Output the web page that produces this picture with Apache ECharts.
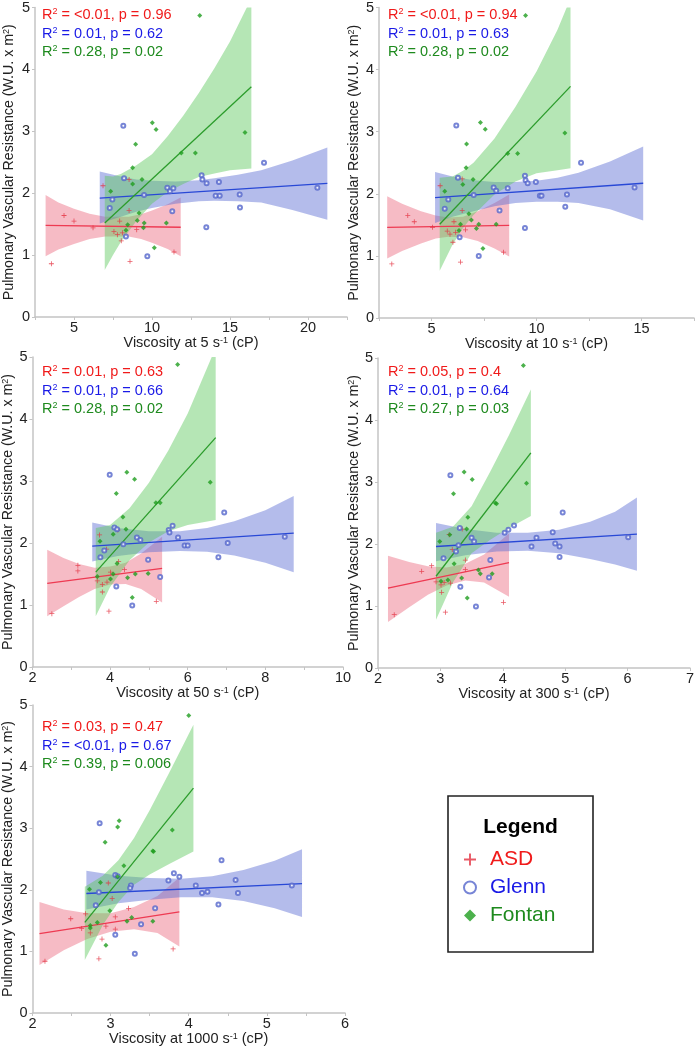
<!DOCTYPE html>
<html>
<head>
<meta charset="utf-8">
<script src="https://cdn.jsdelivr.net/npm/echarts@6/dist/echarts.min.js"></script>
<style>
html,body{margin:0;padding:0;background:#fff;}
#chart{width:697px;height:1050px;}
</style>
</head>
<body>
<div id="chart"></div>
<script>
// ---------- DATA ----------
const shearLabels = ['5', '10', '50', '300', '1000'];

// Panel: viscosity at 5 s-1
const asd_5 = [[3.55,0.86],[4.36,1.64],[5.00,1.55],[6.22,1.44],[6.86,2.12],[8.53,2.22],[8.53,1.72],[7.93,1.55],[7.56,1.38],[7.78,1.33],[8.10,1.36],[8.03,1.23],[8.59,0.90],[9.02,1.41],[11.41,1.05]];
const glenn_5 = [[8.16,3.09],[8.21,2.24],[17.18,2.49],[13.18,2.29],[13.23,2.22],[13.50,2.16],[14.29,2.18],[10.98,2.09],[11.15,2.03],[11.37,2.08],[9.49,1.97],[14.08,1.96],[14.34,1.96],[15.62,1.98],[20.60,2.09],[7.29,1.76],[7.46,1.90],[15.64,1.77],[11.30,1.71],[13.48,1.45],[8.33,1.30],[9.70,0.98]];
const fontan_5 = [[13.06,4.87],[10.02,3.14],[10.26,3.03],[8.95,2.79],[11.88,2.65],[12.78,2.65],[15.96,2.98],[8.76,2.41],[8.76,2.15],[9.36,2.22],[7.35,2.03],[9.17,1.68],[9.06,1.56],[8.44,1.49],[9.50,1.52],[9.45,1.44],[8.33,1.40],[10.92,1.52],[10.15,1.12]];
const fitAsd_5 = [[3.18,1.48],[11.84,1.45]];
const fitGlenn_5 = [[6.65,1.92],[21.24,2.16]];
const fitFontan_5 = [[6.97,1.52],[16.37,3.72]];
const bandAsd_5 = [[3.18,0.98,1.97],[4,1.09,1.85],[5,1.18,1.75],[6,1.26,1.67],[7,1.30,1.62],[8.5,1.30,1.62],[9.3,1.26,1.66],[10,1.20,1.72],[11,1.10,1.82],[11.84,0.98,1.93]];
const bandGlenn_5 = [[6.65,1.51,2.35],[8,1.62,2.27],[9,1.70,2.22],[10,1.76,2.20],[11.5,1.83,2.19],[13,1.87,2.21],[14,1.88,2.24],[15.5,1.87,2.30],[17,1.85,2.37],[19,1.73,2.53],[21.24,1.57,2.74]];
const bandFontan_5 = [[6.97,0.76,2.28],[7.5,1.00,2.27],[8,1.21,2.31],[9,1.55,2.45],[10,1.83,2.63],[11,2.02,2.92],[12,2.15,3.25],[13,2.26,3.62],[14,2.32,4.02],[15,2.37,4.45],[16.37,2.40,5.15]];
const stats_5 = ['<0.01, p = 0.96', '0.01, p = 0.62', '0.28, p = 0.02'];

// Panel: viscosity at 10 s-1
const asd_10 = [[3.11,0.87],[3.87,1.65],[4.18,1.55],[5.05,1.46],[5.41,2.13],[6.46,2.24],[6.46,1.73],[6.07,1.55],[5.75,1.40],[5.88,1.35],[6.15,1.38],[6.02,1.22],[6.38,0.90],[6.62,1.42],[8.43,1.06]];
const glenn_10 = [[6.18,3.10],[6.26,2.26],[12.12,2.50],[9.45,2.29],[9.48,2.22],[9.58,2.17],[9.97,2.19],[7.96,2.10],[8.08,2.05],[8.63,2.09],[7.01,1.98],[10.16,1.97],[10.24,1.97],[11.45,1.99],[14.67,2.10],[5.63,1.76],[5.80,1.91],[11.37,1.79],[8.24,1.73],[9.45,1.45],[6.34,1.30],[7.25,1.00]];
const fontan_10 = [[9.48,4.87],[7.33,3.15],[7.56,3.04],[6.67,2.80],[8.63,2.65],[9.10,2.65],[11.35,2.98],[6.65,2.42],[6.49,2.15],[6.98,2.23],[5.63,2.04],[6.78,1.68],[6.90,1.58],[6.38,1.51],[7.25,1.51],[7.14,1.44],[6.31,1.41],[8.08,1.51],[7.45,1.12]];
const fitAsd_10 = [[2.89,1.46],[8.70,1.49]];
const fitGlenn_10 = [[5.17,1.94],[15.08,2.17]];
const fitFontan_10 = [[5.39,1.51],[11.62,3.73]];
const bandAsd_10 = [[2.89,0.96,1.96],[3.6,1.08,1.84],[4.5,1.20,1.72],[5.2,1.28,1.65],[5.8,1.31,1.62],[6.5,1.30,1.63],[7.2,1.24,1.72],[8,1.12,1.85],[8.70,0.99,1.99]];
const bandGlenn_10 = [[5.17,1.53,2.35],[6,1.63,2.28],[7,1.72,2.22],[8,1.80,2.19],[9,1.85,2.19],[10,1.87,2.21],[11,1.87,2.26],[12,1.85,2.34],[13.5,1.75,2.52],[15.08,1.57,2.76]];
const bandFontan_10 = [[5.39,0.76,2.26],[6,1.18,2.28],[6.5,1.45,2.37],[7,1.66,2.50],[8,1.99,2.89],[9,2.20,3.40],[10,2.33,3.97],[11,2.38,4.64],[11.62,2.41,5.15]];
const stats_10 = ['<0.01, p = 0.94', '0.01, p = 0.63', '0.28, p = 0.02'];

// Panel: viscosity at 50 s-1
const asd_50 = [[2.50,0.86],[3.17,1.64],[3.17,1.55],[3.73,2.13],[3.91,1.90],[4.22,1.70],[3.67,1.39],[3.80,1.33],[3.92,1.37],[3.80,1.21],[4.01,1.53],[4.37,1.57],[3.97,0.90],[5.19,1.06],[4.20,2.21]];
const glenn_50 = [[3.99,3.10],[4.11,2.25],[4.18,2.22],[5.51,2.21],[5.61,2.28],[5.53,2.17],[4.69,2.09],[4.78,2.05],[4.34,1.98],[5.75,2.09],[5.92,1.96],[6.00,1.96],[7.03,2.00],[6.94,2.49],[8.50,2.10],[6.79,1.77],[3.75,1.77],[4.98,1.73],[5.29,1.45],[4.16,1.30],[4.57,0.99],[3.85,1.88]];
const fontan_50 = [[5.74,4.88],[4.43,3.14],[4.63,3.03],[4.16,2.80],[6.58,2.98],[5.18,2.65],[5.29,2.65],[4.33,2.42],[4.41,2.22],[4.08,2.14],[3.74,2.03],[4.18,1.67],[4.57,1.12],[4.01,1.42],[4.45,1.44],[4.65,1.50],[4.98,1.51],[3.67,1.46],[4.08,1.50]];
const fitAsd_50 = [[2.38,1.35],[5.34,1.59]];
const fitGlenn_50 = [[3.54,1.95],[8.73,2.16]];
const fitFontan_50 = [[3.63,1.53],[6.72,3.70]];
const bandAsd_50 = [[2.38,0.82,1.89],[2.8,0.98,1.76],[3.2,1.13,1.66],[3.6,1.26,1.60],[4.0,1.33,1.62],[4.4,1.34,1.68],[4.8,1.26,1.83],[5.34,1.04,2.10]];
const bandGlenn_50 = [[3.54,1.70,2.33],[4.2,1.79,2.24],[5,1.85,2.19],[5.8,1.87,2.19],[6.5,1.86,2.24],[7.2,1.80,2.35],[8,1.68,2.53],[8.73,1.53,2.76]];
const bandFontan_50 = [[3.63,0.82,2.24],[4,1.29,2.29],[4.5,1.72,2.56],[5,2.01,2.97],[5.5,2.19,3.49],[6,2.29,4.09],[6.72,2.37,5.15]];
const stats_50 = ['0.01, p = 0.63', '0.01, p = 0.66', '0.28, p = 0.02'];

// Panel: viscosity at 300 s-1
const asd_300 = [[2.26,0.86],[2.70,1.56],[2.86,1.65],[2.93,1.39],[3.01,1.34],[3.06,1.38],[3.16,1.37],[3.02,1.22],[3.40,1.59],[3.14,2.15],[3.19,1.91],[3.40,1.74],[3.08,0.90],[4.01,1.06],[3.35,2.24]];
const glenn_300 = [[3.16,3.11],[3.31,2.26],[3.50,2.10],[3.54,2.04],[3.29,1.98],[4.03,2.18],[4.09,2.23],[4.18,2.30],[4.54,2.10],[4.46,1.96],[4.80,2.19],[4.84,2.01],[4.91,1.96],[4.96,2.51],[4.91,1.79],[6.01,2.11],[3.05,1.77],[3.80,1.74],[3.78,1.46],[3.32,1.31],[3.57,0.99],[3.25,1.88]];
const fontan_300 = [[4.33,4.88],[3.38,3.16],[3.51,3.04],[3.21,2.81],[4.38,2.98],[3.88,2.66],[3.90,2.65],[3.44,2.43],[3.42,2.24],[3.15,2.15],[2.99,2.04],[3.22,1.68],[3.43,1.13],[3.12,1.42],[3.34,1.45],[3.61,1.58],[3.64,1.52],[3.83,1.52],[3.01,1.40]];
const fitAsd_300 = [[2.16,1.29],[4.10,1.70]];
const fitGlenn_300 = [[2.93,1.96],[6.15,2.16]];
const fitFontan_300 = [[2.93,1.48],[4.45,3.47]];
const bandAsd_300 = [[2.16,0.74,1.81],[2.5,0.98,1.71],[2.8,1.18,1.64],[3.1,1.33,1.62],[3.4,1.41,1.68],[3.7,1.38,1.83],[4.10,1.15,2.17]];
const bandGlenn_300 = [[2.93,1.72,2.34],[3.4,1.82,2.24],[3.9,1.88,2.18],[4.4,1.89,2.18],[4.9,1.85,2.23],[5.4,1.76,2.36],[5.8,1.67,2.52],[6.15,1.57,2.75]];
const bandFontan_300 = [[2.93,0.78,2.18],[3.2,1.38,2.28],[3.5,1.85,2.61],[3.8,2.07,3.17],[4.1,2.26,3.76],[4.45,2.45,4.49]];
const stats_300 = ['0.05, p = 0.4', '0.01, p = 0.64', '0.27, p = 0.03'];

// Panel: viscosity at 1000 s-1
const asd_1000 = [[2.16,0.84],[2.49,1.53],[2.63,1.37],[2.68,1.61],[2.74,1.30],[2.89,1.20],[2.85,0.88],[2.97,2.11],[3.02,1.86],[2.94,1.41],[3.06,1.56],[3.06,1.36],[3.23,1.70],[3.80,1.04],[3.07,2.22]];
const glenn_1000 = [[2.86,3.08],[3.06,2.24],[3.09,2.22],[3.81,2.27],[3.74,2.15],[3.88,2.21],[3.26,2.07],[3.25,2.03],[2.85,1.96],[4.09,2.07],[4.17,1.95],[4.24,1.97],[4.42,2.48],[4.60,2.16],[4.63,1.95],[4.38,1.76],[5.32,2.07],[2.81,1.75],[3.57,1.70],[3.39,1.44],[3.06,1.27],[3.31,0.96]];
const fontan_1000 = [[4.00,4.83],[3.11,3.12],[3.09,3.02],[2.93,2.77],[3.79,2.97],[3.54,2.63],[3.55,2.62],[3.17,2.39],[2.87,2.12],[3.09,2.21],[2.73,2.01],[2.99,1.66],[2.83,1.47],[2.74,1.42],[2.74,1.38],[3.21,1.49],[3.27,1.55],[3.54,1.49],[2.94,1.10]];
const fitAsd_1000 = [[2.09,1.29],[3.88,1.64]];
const fitGlenn_1000 = [[2.69,1.94],[5.45,2.10]];
const fitFontan_1000 = [[2.67,1.47],[4.06,3.65]];
const bandAsd_1000 = [[2.09,0.78,1.80],[2.4,1.02,1.68],[2.7,1.20,1.62],[3.0,1.32,1.62],[3.3,1.36,1.72],[3.6,1.30,1.90],[3.88,1.08,2.20]];
const bandGlenn_1000 = [[2.69,1.68,2.31],[3.1,1.78,2.23],[3.5,1.84,2.19],[3.9,1.88,2.18],[4.3,1.88,2.22],[4.7,1.82,2.32],[5.1,1.70,2.47],[5.45,1.56,2.66]];
const bandFontan_1000 = [[2.67,0.86,2.05],[2.9,1.43,2.23],[3.1,1.80,2.48],[3.3,2.08,2.84],[3.5,2.25,3.29],[3.75,2.42,3.90],[4.06,2.62,4.68]];
const stats_1000 = ['0.03, p = 0.47', '<0.01, p = 0.67', '0.39, p = 0.006'];

// x axis ranges per panel
const xMin = [2.5, 2.5, 2, 2, 2];
const xMax = [22.5, 17.5, 10, 7, 6];
const xInterval = [2.5, 2.5, 2, 1, 1];
const yTicks = [0, 1, 2, 3, 4, 5];
const groupNames = ['ASD', 'Glenn', 'Fontan'];

// ---------- LAYOUT / STYLE ----------
const FONT = '"Liberation Sans", Arial, Helvetica, sans-serif';
const C = {
  asd:   {pt:'#e3303e', line:'#ee3a52', band:'rgba(234,92,116,0.42)', text:'#f01a1a'},
  glenn: {pt:'#5566cc', line:'#2848d6', band:'rgba(92,108,212,0.46)', text:'#1a1ae6'},
  fontan:{pt:'#1f9e1f', line:'#2c9c2c', band:'rgba(92,200,92,0.45)', text:'#1e8a1e'}
};
const PLUS = 'path://M4.2,0h1.6v4.2h4.2v1.6h-4.2v4.2h-1.6v-4.2h-4.2v-1.6h4.2z';
const DIAMOND = 'path://M5,0L10,5L5,10L0,5Z';

const grids = [
  {left:35, top:7, width:312, height:310},
  {left:379, top:7, width:317, height:311},
  {left:32, top:357, width:311, height:310},
  {left:378, top:358, width:315, height:310},
  {left:32, top:705, width:313, height:308}
];
const xNameGap = [18, 18, 18, 18, 12];
const yNameGap = [18, 17, 15, 16, 15];
const statPos = [[42,15],[388,15],[42,372],[388,372],[42,727]];

const panels = [
  {asd:asd_5, glenn:glenn_5, fontan:fontan_5, fa:fitAsd_5, fg:fitGlenn_5, ff:fitFontan_5, ba:bandAsd_5, bg:bandGlenn_5, bf:bandFontan_5, st:stats_5},
  {asd:asd_10, glenn:glenn_10, fontan:fontan_10, fa:fitAsd_10, fg:fitGlenn_10, ff:fitFontan_10, ba:bandAsd_10, bg:bandGlenn_10, bf:bandFontan_10, st:stats_10},
  {asd:asd_50, glenn:glenn_50, fontan:fontan_50, fa:fitAsd_50, fg:fitGlenn_50, ff:fitFontan_50, ba:bandAsd_50, bg:bandGlenn_50, bf:bandFontan_50, st:stats_50},
  {asd:asd_300, glenn:glenn_300, fontan:fontan_300, fa:fitAsd_300, fg:fitGlenn_300, ff:fitFontan_300, ba:bandAsd_300, bg:bandGlenn_300, bf:bandFontan_300, st:stats_300},
  {asd:asd_1000, glenn:glenn_1000, fontan:fontan_1000, fa:fitAsd_1000, fg:fitGlenn_1000, ff:fitFontan_1000, ba:bandAsd_1000, bg:bandGlenn_1000, bf:bandFontan_1000, st:stats_1000}
];

const supRich = {sup:{fontSize:9, verticalAlign:'top', padding:[0,0,6,0], fontFamily:FONT, color:'#222'}};

const xAxes = [], yAxes = [], series = [], graphics = [];

panels.forEach((p, i) => {
  const iv = xInterval[i];
  xAxes.push({
    type:'value', gridIndex:i, min:xMin[i], max:xMax[i], interval:iv,
    name:'Viscosity at ' + shearLabels[i] + ' s{sup|-1} (cP)',
    nameLocation:'middle', nameGap:xNameGap[i],
    nameTextStyle:{fontSize:14.5, color:'#222', fontFamily:FONT, rich:supRich},
    axisLine:{lineStyle:{color:'#c4c4c4', width:1.5}},
    axisTick:{show:true, length:3, lineStyle:{color:'#c4c4c4'}},
    minorTick:{show:(i===2 || i===4), splitNumber:2, length:3, lineStyle:{color:'#c4c4c4'}},
    axisLabel:{fontSize:14.5, color:'#222', margin:3, fontFamily:FONT,
      formatter: v => (iv === 2.5 ? (Math.abs(v % 5) < 1e-9 ? String(v) : '') : String(v))},
    splitLine:{show:false}
  });
  yAxes.push({
    type:'value', gridIndex:i, min:yTicks[0], max:yTicks[yTicks.length-1], interval:1,
    name:'Pulmonary Vascular Resistance (W.U. x m{sup|2})',
    nameLocation:'middle', nameGap:yNameGap[i],
    nameTextStyle:{fontSize:14.2, color:'#222', fontFamily:FONT, rich:supRich},
    axisLine:{show:true, lineStyle:{color:'#c4c4c4', width:1.5}},
    axisTick:{show:true, length:3, lineStyle:{color:'#c4c4c4'}},
    axisLabel:{fontSize:14.5, color:'#222', margin:5, fontFamily:FONT},
    splitLine:{show:false}
  });

  const band = (data, color) => ({
    type:'custom', xAxisIndex:i, yAxisIndex:i, clip:true, silent:true, z:1,
    data:data, encode:{x:0, y:[1,2]},
    renderItem:(params, api) => {
      if (params.dataIndex !== 0) return null;
      const top = data.map(d => api.coord([d[0], d[2]]));
      const bot = data.slice().reverse().map(d => api.coord([d[0], d[1]]));
      return {type:'polygon', shape:{points:top.concat(bot)}, style:{fill:color}};
    }
  });
  series.push(band(p.ba, C.asd.band), band(p.bg, C.glenn.band), band(p.bf, C.fontan.band));

  const fit = (data, color) => ({
    type:'line', xAxisIndex:i, yAxisIndex:i, data:data, showSymbol:false, silent:true, z:2,
    lineStyle:{color:color, width:1.3}, animation:false
  });
  series.push(fit(p.fa, C.asd.line), fit(p.fg, C.glenn.line), fit(p.ff, C.fontan.line));

  series.push({type:'scatter', name:'ASD', xAxisIndex:i, yAxisIndex:i, data:p.asd, symbol:PLUS, symbolSize:5, z:3,
    itemStyle:{color:C.asd.pt}});
  series.push({type:'scatter', name:'Glenn', xAxisIndex:i, yAxisIndex:i, data:p.glenn, symbol:'emptyCircle', symbolSize:4, z:3,
    itemStyle:{color:C.glenn.pt, borderWidth:0.9}});
  series.push({type:'scatter', name:'Fontan', xAxisIndex:i, yAxisIndex:i, data:p.fontan, symbol:'diamond', symbolSize:5, z:3,
    itemStyle:{color:C.fontan.pt}});

  const cols = [C.asd.text, C.glenn.text, C.fontan.text];
  p.st.forEach((s, k) => {
    graphics.push({
      type:'text', x:statPos[i][0], y:statPos[i][1] + k*18.5, z:10,
      style:{
        text:'{r|R}{s|2}{r| = ' + s + '}',
        verticalAlign:'middle',
        rich:{
          r:{fontSize:14.5, fill:cols[k], fontFamily:FONT},
          s:{fontSize:9, fill:cols[k], fontFamily:FONT, verticalAlign:'top', padding:[0,0,6,0]}
        }
      }
    });
  });
});

// legend box + title
graphics.push({type:'rect', shape:{x:448, y:796, width:145, height:156}, style:{fill:'none', stroke:'#222', lineWidth:1.6}, z:10});
graphics.push({type:'text', x:520.5, y:827, z:10, style:{text:'Legend', font:'bold 21px ' + FONT, fill:'#000', align:'center', verticalAlign:'middle'}});

const option = {
  animation:false,
  textStyle:{fontFamily:FONT},
  grid:grids,
  xAxis:xAxes,
  yAxis:yAxes,
  series:series,
  graphic:graphics,
  legend:{
    orient:'vertical', left:463, top:849, itemWidth:30, itemHeight:12, itemGap:7,
    selectedMode:false, padding:0,
    textStyle:{fontSize:21, fontFamily:FONT},
    data:[
      {name:groupNames[0], icon:PLUS, textStyle:{color:'#f01a1a'}},
      {name:groupNames[1], icon:'emptyCircle', itemStyle:{borderWidth:2}, textStyle:{color:'#1a1ae6'}},
      {name:groupNames[2], icon:DIAMOND, textStyle:{color:'#1e8a1e'}}
    ]
  }
};

const chart = echarts.init(document.getElementById('chart'), null, {renderer:'canvas'});
chart.setOption(option);
</script>
</body>
</html>
